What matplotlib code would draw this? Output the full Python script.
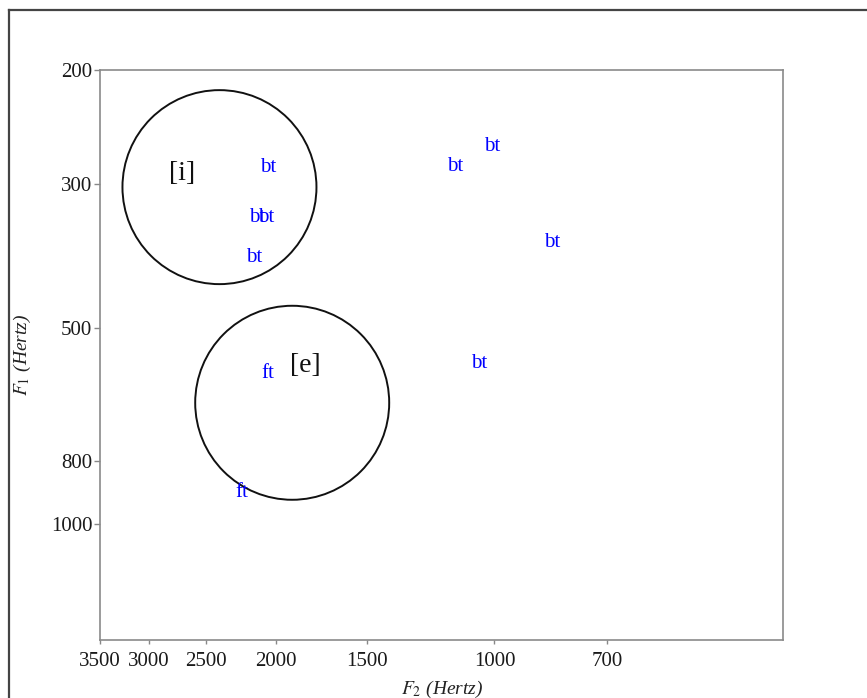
import matplotlib
matplotlib.use("Agg")
import matplotlib.pyplot as plt
from matplotlib.lines import Line2D

plt.rcParams['font.family'] = ['Liberation Serif', 'DejaVu Serif']
plt.rcParams['mathtext.fontset'] = 'stix'

# vowel tokens: (F2, F1) in Hz
bt_f2 = [2053, 2126, 2066, 2146, 1134, 1008, 833, 1050]
bt_f1 = [280, 334, 334, 385, 279, 260, 365, 561]
ft_f2 = [2053, 2229]
ft_f1 = [581, 887]

# vowel category labels and circle centres
vowel_labels = ["[i]", "[e]"]
label_f2 = [2698, 1825]
label_f1 = [286, 565]
circle_f2 = [2395, 1901]
circle_f1 = [303, 651]

x_ticks = [3500, 3000, 2500, 2000, 1500, 1000, 700]
y_ticks = [200, 300, 500, 800, 1000]

fig = plt.figure(figsize=(8.67, 6.98), dpi=100)
W, H = 867, 698
ax = fig.add_axes([100 / W, 1 - 640 / H, 683 / W, 570 / H])

ax.set_xscale('log')
ax.set_yscale('log')
ax.set_xlim(3500, 400)
ax.set_ylim(1510, 200)

ax.set_xticks(x_ticks)
ax.set_xticklabels([str(t) for t in x_ticks])
ax.set_yticks(y_ticks)
ax.set_yticklabels([str(t) for t in y_ticks])
ax.minorticks_off()
ax.tick_params(axis='x', direction='out', length=3, width=1, color='#888888',
               labelsize=15, labelcolor='#1a1a1a', pad=6)
ax.tick_params(axis='y', direction='out', length=4, width=1, color='#888888',
               labelsize=15, labelcolor='#1a1a1a', pad=1.5)
for s in ax.spines.values():
    s.set_color('#8a8a8a')
    s.set_linewidth(1.2)

# circles (constant size in display space)
diam_pt = 194 * 72 / 100
ax.scatter(circle_f2, circle_f1, s=diam_pt ** 2, facecolors='none',
           edgecolors='#111111', linewidths=1.4, zorder=2)

for lab, x, y in zip(vowel_labels, label_f2, label_f1):
    ax.text(x, y, lab, fontsize=20, ha='center', va='center_baseline', color='#111111')

for x, y in zip(bt_f2, bt_f1):
    ax.text(x, y, "bt", fontsize=15, ha='center', va='center_baseline',
            color='#0000ff', zorder=3)
for x, y in zip(ft_f2, ft_f1):
    ax.text(x, y, "ft", fontsize=15, ha='center', va='center_baseline',
            color='#0000ff', zorder=3)

fig.text(22 / W, 1 - 355 / H, r"$F_1$ (Hertz)", rotation=90, fontsize=14,
         style='italic', ha='center', va='center', color='#222222')
fig.text(442 / W, 1 - 689 / H, r"$F_2$ (Hertz)", fontsize=14,
         style='italic', ha='center', va='center', color='#222222')

# outer frame
fig.add_artist(Line2D([8.5 / W, 8.5 / W], [0, 1 - 9.5 / H], transform=fig.transFigure,
                      color='#444444', lw=1.6))
fig.add_artist(Line2D([8.5 / W, 1], [1 - 9.5 / H, 1 - 9.5 / H], transform=fig.transFigure,
                      color='#444444', lw=1.6))

fig.savefig("out.png", dpi=100)
